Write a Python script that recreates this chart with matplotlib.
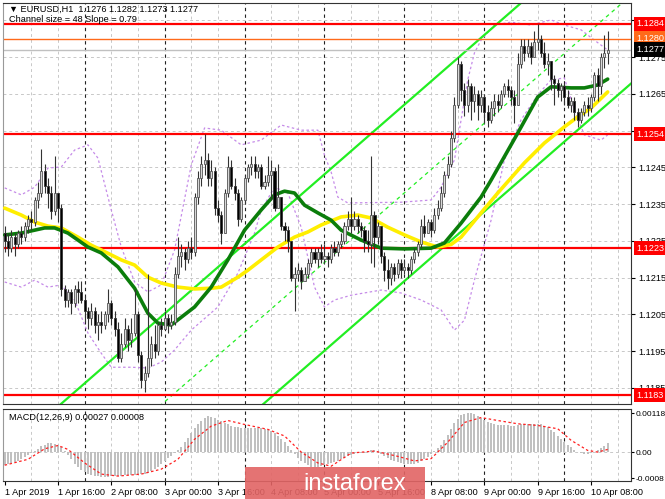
import numpy as np
import matplotlib
matplotlib.use('Agg')
import matplotlib.pyplot as plt
import matplotlib.transforms as mtrans
from matplotlib.patches import Rectangle

# EURUSD H1, 1 Apr 2019 00:00 .. 10 Apr 2019 13:00 (weekend skipped)
# prices are given in pips above BASE
BASE = 1.1200
first_open = 27
close_pips = [25, 23, 26, 24, 27, 26, 29, 31, 30, 36, 38, 44, 40, 38, 33, 38, 34, 12, 9, 11, 8, 12, 11, 9,
              6, 4, 6, 2, 3, 2, 5, 8, 4, 1, -7, -3, 1, -2, 0, 5, -6, -13, -11, -7, -3, -5, 2, 1,
              4, 2, 3, 16, 21, 22, 20, 23, 22, 37, 42, 46, 47, 42, 44, 34, 32, 27, 38, 45, 40, 38, 31, 36,
              42, 45, 46, 44, 45, 40, 41, 43, 44, 34, 37, 29, 28, 25, 15, 16, 17, 14, 16, 19, 22, 20, 22, 20,
              21, 20, 23, 22, 24, 25, 29, 31, 29, 31, 29, 28, 25, 24, 32, 26, 29, 21, 17, 15, 18, 16, 19, 17,
              18, 17, 20, 22, 24, 29, 27, 30, 28, 32, 34, 38, 43, 46, 53, 62, 73, 66, 62, 67, 63, 65, 62, 64,
              60, 58, 61, 63, 62, 65, 67, 66, 64, 62, 73, 78, 76, 78, 75, 79, 80, 76, 73, 74, 69, 68, 66, 67,
              64, 62, 63, 60, 58, 60, 62, 61, 64, 70, 67, 75, 76, 77]
high_pips = [29, 27, 28, 27, 28, 29, 30, 32, 33, 37, 41, 50, 46, 42, 40, 48, 38, 35, 13, 12, 12, 13, 14, 14,
             10, 7, 8, 7, 5, 6, 6, 12, 9, 6, 3, 0, 4, 2, 4, 12, 6, -5, -9, 16, -1, 2, 3, 4,
             6, 5, 5, 18, 26, 24, 23, 25, 26, 38, 44, 48, 54, 49, 47, 45, 36, 33, 39, 48, 47, 42, 39, 37,
             43, 46, 48, 48, 46, 46, 43, 48, 47, 45, 46, 37, 30, 29, 25, 18, 19, 18, 18, 20, 23, 23, 23, 24,
             24, 22, 24, 25, 25, 27, 30, 33, 37, 33, 32, 30, 29, 28, 48, 33, 30, 29, 22, 20, 19, 19, 20, 20,
             20, 19, 21, 23, 25, 31, 32, 31, 31, 34, 36, 40, 44, 48, 55, 64, 75, 74, 68, 69, 68, 67, 66, 66,
             65, 62, 63, 65, 65, 66, 68, 69, 67, 66, 76, 80, 80, 80, 79, 82, 84, 81, 79, 76, 74, 70, 69, 68,
             68, 66, 64, 64, 61, 61, 63, 64, 65, 71, 72, 76, 81, 82]
low_pips = [22, 21, 22, 21, 23, 24, 25, 27, 28, 29, 34, 37, 38, 34, 31, 32, 30, 10, 7, 7, 5, 7, 8, 8,
            3, 1, 2, 0, -2, 0, 1, 3, 2, -1, -8, -8, -4, -5, -4, -1, -8, -15, -16, -12, -9, -7, -6, -1,
            1, 0, 1, 2, 15, 18, 17, 19, 20, 21, 35, 40, 43, 40, 40, 32, 30, 24, 27, 37, 39, 36, 29, 30,
            35, 41, 43, 42, 42, 39, 39, 40, 36, 33, 34, 28, 25, 22, 14, 6, 14, 12, 14, 15, 18, 19, 18, 19,
            19, 18, 19, 21, 21, 23, 24, 28, 27, 28, 27, 26, 22, 22, 19, 18, 24, 19, 14, 12, 13, 14, 15, 15,
            16, 15, 16, 19, 21, 23, 26, 27, 26, 27, 31, 33, 37, 42, 45, 52, 61, 63, 59, 60, 58, 60, 58, 60,
            57, 56, 57, 59, 60, 61, 64, 64, 62, 57, 62, 72, 74, 75, 73, 75, 77, 75, 72, 70, 66, 62, 64, 63,
            62, 61, 60, 58, 56, 57, 59, 59, 60, 63, 63, 65, 72, 73]

# moving averages and bands, read at sparse bars
green_bars = [0, 5, 12, 15, 19, 25, 29, 34, 39, 43, 46, 50, 53, 57, 62, 67, 72, 77, 81, 84, 87, 90, 94, 98,
              101, 107, 113, 120, 128, 132, 137, 143, 146, 154, 160, 164, 170, 174, 178, 181]
green_pips = [26.6, 27.1, 28.5, 28.5, 27.1, 23.3, 21.7, 17.9, 12.1, 5.3, 2.6, 2.1, 4.2, 7.0, 12.4, 19.8,
              27.9, 33.4, 37.5, 38.5, 38.0, 34.7, 32.6, 30.6, 27.9, 25.2, 23.0, 22.8, 23.0, 24.4, 29.8,
              36.9, 41.5, 54.3, 64.1, 66.9, 66.6, 66.6, 67.4, 69.0]
yellow_bars = [0, 5, 9, 13, 17, 22, 26, 29, 35, 39, 43, 47, 52, 57, 62, 65, 70, 73, 77, 82, 87, 91, 95,
               101, 106, 110, 115, 120, 125, 130, 134, 137, 143, 148, 156, 162, 168, 172, 176, 181]
yellow_pips = [33.9, 32.0, 30.1, 29.0, 28.5, 26.0, 23.8, 22.5, 19.8, 18.4, 15.1, 13.5, 12.4, 11.9, 12.1,
               12.4, 15.1, 17.0, 19.8, 23.3, 26.0, 27.4, 29.3, 31.5, 32.0, 31.2, 28.7, 26.6, 24.7, 23.3,
               24.0, 26.0, 32.6, 38.0, 46.2, 51.6, 56.0, 58.7, 61.1, 65.5]
upper_bars = [0, 5, 9, 13, 17, 21, 25, 28, 32, 35, 39, 43, 47, 51, 56, 60, 65, 71, 77, 83, 89, 94, 96,
              98, 100, 103, 119, 128, 131, 135, 137, 139, 141, 143, 147, 152, 158, 164, 168, 173, 177, 181]
upper_pips = [39.4, 37.5, 39.6, 44.8, 45.1, 49.7, 51.1, 47.5, 33.4, 23.3, 13.8, 11.1, 13.0, 22.5, 45.6,
              55.7, 55.1, 51.1, 52.4, 56.5, 55.1, 55.1, 48.3, 43.7, 36.9, 35.3, 35.5, 36.1, 39.6, 47.0,
              57.9, 68.8, 76.1, 79.6, 83.7, 84.5, 83.7, 85.1, 83.7, 82.4, 79.6, 76.9]
lower_bars = [0, 5, 9, 13, 17, 21, 25, 29, 32, 38, 43, 47, 51, 56, 64, 70, 75, 77, 81, 85, 89, 93, 96,
              99, 104, 113, 119, 125, 131, 135, 138, 141, 146, 150, 155, 160, 164, 168, 171, 174, 179, 181]
lower_pips = [13.8, 12.4, 14.3, 12.4, 13.0, 8.9, -0.1, -5.6, -9.4, -9.4, -9.6, -8.0, -4.7, 0.7, 7.0, 16.2,
              27.1, 33.4, 39.6, 38.0, 28.7, 12.4, 7.0, 8.9, 10.2, 11.6, 10.8, 8.9, 6.2, 0.7, 3.4, 14.3,
              30.6, 47.0, 57.9, 64.7, 68.8, 69.3, 60.6, 53.8, 52.4, 53.8]

# regression channel
chan_anchor_bar = 136
chan_anchor_pips = 74.7
chan_slope = 0.79
chan_size = 48

levels_red = [1.1284, 1.1254, 1.1223, 1.1183]
level_orange = 1.1280
bid = 1.1277

# MACD(12,26,9), units of 1e-5
macd_main = [-38, -36, -33, -30, -26, -21, -16, -10, -4, 4, 10, 17, 23, 28, 28, 26, 22, 15, 4,
             -8, -22, -35, -46, -55,
             -62, -66, -70, -72, -74, -75, -75, -75, -74, -74, -73, -72, -71, -70, -70, -69, -68, -68,
             -67, -64, -58, -52, -44, -37, -28, -19, -11, -4,
             5, 16, 30, 44, 58, 72, 84, 94, 104, 110, 108, 104, 99, 93, 88, 84, 80, 77, 75, 74, 74, 73,
             73, 73, 72, 72, 70, 67, 64, 58, 50, 40, 30, 18, 6,
             -6, -17, -26, -34, -40, -44, -45, -44, -42, -40, -37, -34, -30, -26, -22, -17, -13, -9, -6,
             -4, -3, -2, 0, 5, 7, 3, -5, -12, -18, -24, -28, -31, -33, -35, -36, -36, -35, -33, -28, -22,
             -14, -7,
             2, 12, 22, 36, 52, 70, 88, 102, 112, 117, 118, 118, 116, 110, 104, 97, 92, 88, 85, 83, 82,
             82, 81, 80, 79, 81, 84, 85, 86, 86, 86, 86, 84, 80, 75, 68, 60, 50, 40, 30, 22, 14, 7, 1,
             -3, -5, -5, -3, 1, 6, 12, 18, 27]
signal_bars = [0, 7, 12, 16, 19, 24, 29, 34, 41, 47, 52, 57, 62, 67, 72, 79, 84, 89, 94, 98, 104, 111,
               118, 123, 128, 133, 138, 143, 148, 154, 160, 166, 170, 175, 178, 181]
signal_vals = [-40, -22, 10, 20, 8, -33, -67, -73, -67, -52, -22, 39, 79, 96, 84, 69, 49, 0, -33, -43,
               -3, 3, -13, -27, -20, 30, 90, 105, 96, 86, 81, 71, 36, 5, 0, 8]

time_ticks = [0, 16, 32, 48, 64, 80, 96, 112, 128, 144, 160, 176]
time_labels = ['1 Apr 2019', '1 Apr 16:00', '2 Apr 08:00', '3 Apr 00:00', '3 Apr 16:00', '4 Apr 08:00',
               '5 Apr 00:00', '5 Apr 16:00', '8 Apr 08:00', '9 Apr 00:00', '9 Apr 16:00', '10 Apr 08:00']
day_starts = [24, 48, 72, 96, 120, 144, 168]

plt.rcParams['font.family'] = ['Liberation Sans', 'DejaVu Sans']
fs = 6.6

def px(v):
    return BASE + np.asarray(v, dtype=float) / 10000.0

fig = plt.figure(figsize=(6.65, 4.99), dpi=100)
ax = fig.add_axes([3 / 665, 1 - 404 / 499, 628 / 665, 401 / 499])
axm = fig.add_axes([3 / 665, 1 - 481 / 499, 628 / 665, 72 / 499], sharex=ax)

n = len(close_pips)
x = np.arange(n)
c = px(close_pips)
h = px(high_pips)
l = px(low_pips)
o = np.concatenate([[px(first_open)], c[:-1]])

xmax = 188
ax.set_xlim(-0.5, xmax)
ax.set_ylim(1.11806, 1.12897)

# grid
yt = np.round(np.arange(1.1185, 1.1286, 0.001), 4)
for v in yt:
    ax.axhline(v, color='#c8c8c8', lw=0.7, ls=(0, (3, 3)), zorder=0)
for b in range(8, xmax, 8):
    if b % 24 != 0:
        ax.axvline(b, color='#c8c8c8', lw=0.7, ls=(0, (3, 3)), zorder=0)
        axm.axvline(b, color='#c8c8c8', lw=0.7, ls=(0, (3, 3)), zorder=0)
for b in day_starts:
    ax.axvline(b, color='#222222', lw=0.8, ls=(0, (3, 3)), zorder=0)
    axm.axvline(b, color='#222222', lw=0.8, ls=(0, (3, 3)), zorder=0)

# bands (dotted violet)
ax.plot(upper_bars, px(upper_pips), color='#c58be8', lw=0.9, ls=(0, (2, 2)), zorder=1)
ax.plot(lower_bars, px(lower_pips), color='#c58be8', lw=0.9, ls=(0, (2, 2)), zorder=1)

# channel
cb = np.array([-1, xmax + 1])
cu = chan_anchor_pips + chan_slope * (cb - chan_anchor_bar)
ax.plot(cb, px(cu), color='#22ee22', lw=1.6, zorder=2)
ax.plot(cb, px(cu - chan_size / 2), color='#22ee22', lw=0.9, ls=(0, (3, 3)), zorder=2)
ax.plot(cb, px(cu - chan_size), color='#22ee22', lw=1.6, zorder=2)

# horizontal levels
for lv in levels_red:
    ax.axhline(lv, color='#ff0000', lw=1.6, zorder=2)
ax.axhline(level_orange, color='#ff6a1a', lw=1.0, zorder=2)
ax.axhline(bid, color='#c0c0c0', lw=1.0, zorder=2)

# moving averages
ax.plot(yellow_bars, px(yellow_pips), color='#ffee00', lw=2.6, zorder=3, solid_capstyle='round')
ax.plot(green_bars, px(green_pips), color='#0b7d0b', lw=2.6, zorder=4, solid_capstyle='round')

# candles
ax.vlines(x, l, h, color='#333333', lw=0.8, zorder=5)
up = c >= o
body_h = np.maximum(np.abs(c - o), 0.000015)
ax.bar(x[up], body_h[up], bottom=np.minimum(o, c)[up], width=0.62, color='#d8d8d8',
       edgecolor='#555555', lw=0.6, zorder=6)
ax.bar(x[~up], body_h[~up], bottom=np.minimum(o, c)[~up], width=0.62, color='#000000',
       edgecolor='#333333', lw=0.6, zorder=6)

# axes style
ax.yaxis.tick_right()
ax.set_yticks(yt)
ax.set_yticklabels(['%.4f' % v for v in yt])
ax.tick_params(axis='y', labelsize=fs, length=3, pad=2, colors='black')
ax.tick_params(axis='x', bottom=False, labelbottom=False)
for sp in ax.spines.values():
    sp.set_color('#333333')
    sp.set_linewidth(0.8)
ax.spines['left'].set_color('#999999')

tr = mtrans.blended_transform_factory(ax.transAxes, ax.transData)
box_kw = dict(transform=tr, fontsize=fs, color='white', va='center', ha='left', zorder=10)
for lv in levels_red:
    ax.text(1.009, lv, '%.4f' % lv, bbox=dict(boxstyle='square,pad=0.3', fc='#ff0000', ec='none'),
            **box_kw)
ax.text(1.009, level_orange, '%.4f' % level_orange,
        bbox=dict(boxstyle='square,pad=0.3', fc='#ff6a1a', ec='none'), **box_kw)
ax.text(1.009, bid, '%.4f' % bid, bbox=dict(boxstyle='square,pad=0.3', fc='#000000', ec='none'),
        **box_kw)

ax.text(6 / 628, 1 - 2 / 401, '\u25bc EURUSD,H1  %.4f %.4f %.4f %.4f' % (o[-1], h[-1], l[-1], c[-1]),
        transform=ax.transAxes, fontsize=fs, va='top', ha='left', zorder=10)
ax.text(6 / 628, 1 - 12 / 401, 'Channel size = %d Slope = %.2f' % (chan_size, chan_slope),
        transform=ax.transAxes, fontsize=fs, va='top', ha='left', zorder=10)

# MACD panel
hist = np.array(macd_main) * 1e-5
axm.set_ylim(-0.00088, 0.00131)
axm.axhline(0, color='#c8c8c8', lw=0.7, ls=(0, (3, 3)), zorder=0)
axm.bar(x, hist, width=0.6, color='#c0c0c0', zorder=2)
axm.plot(signal_bars, np.array(signal_vals) * 1e-5, color='#ff2020', lw=0.9, ls=(0, (2, 2)), zorder=3)
axm.yaxis.tick_right()
axm.set_yticks([0.00118, 0, -0.0008])
axm.set_yticklabels(['0.00118', '0.00', '-0.0008'])
axm.tick_params(axis='y', labelsize=6.0, length=2, pad=1.5)
axm.set_xticks(time_ticks)
axm.set_xticklabels(time_labels, ha='left')
axm.tick_params(axis='x', labelsize=fs, length=3, pad=2)
for sp in axm.spines.values():
    sp.set_color('#333333')
    sp.set_linewidth(0.8)
axm.spines['left'].set_color('#999999')
axm.text(6 / 628, 1 - 4 / 72, 'MACD(12,26,9) %.5f %.5f' % (macd_main[-1] * 1e-5, signal_vals[-1] * 1e-5),
         transform=axm.transAxes, fontsize=fs, va='top', ha='left', zorder=10)

# watermark logo
fig.patches.append(Rectangle((245 / 665, 0), 180 / 665, 32 / 499, transform=fig.transFigure,
                             fc='#e26464', ec='none', alpha=0.9, zorder=20))
fig.text(355 / 665, 15 / 499, 'instaforex', color='white', fontsize=17, ha='center', va='center',
         zorder=21)

fig.savefig('out.png', dpi=100)
